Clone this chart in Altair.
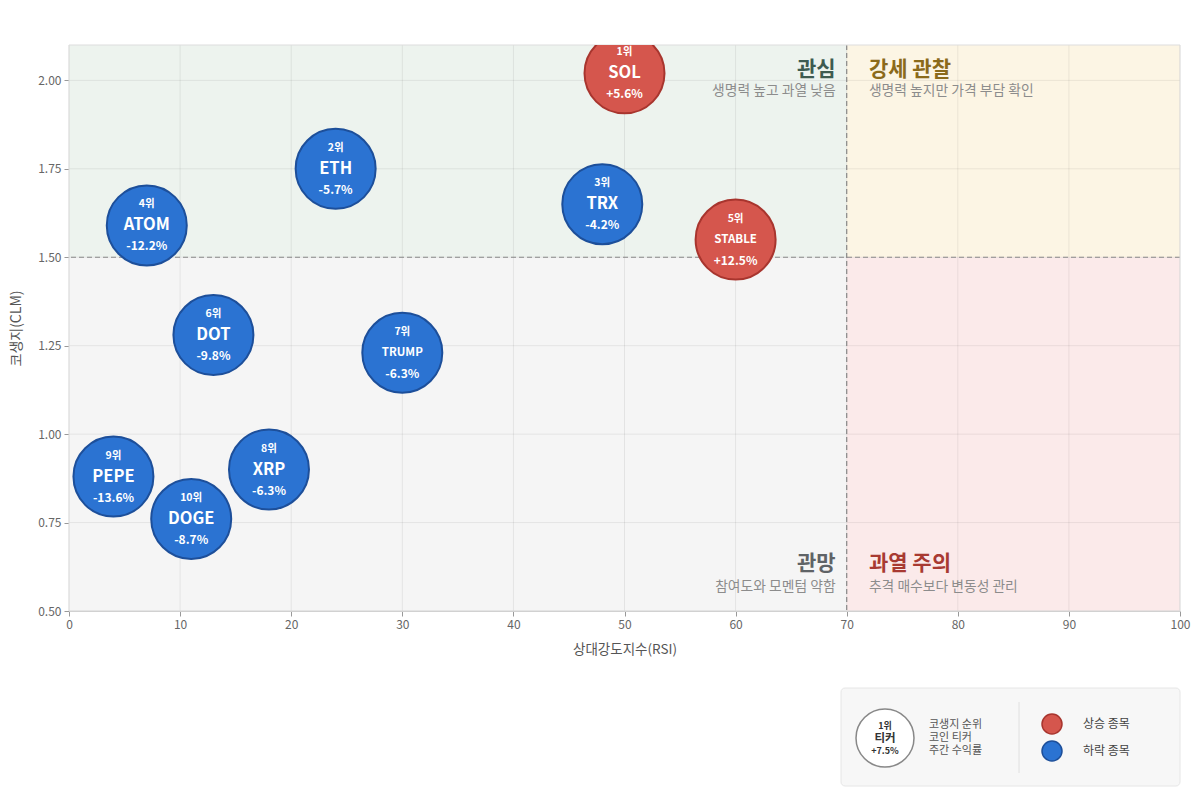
import altair as alt
import pandas as pd

FONT = "Noto Sans CJK KR"

ranks = ["1위", "2위", "3위", "4위", "5위", "6위", "7위", "8위", "9위", "10위"]
tickers = ["SOL", "ETH", "TRX", "ATOM", "STABLE", "DOT", "TRUMP", "XRP", "PEPE", "DOGE"]
rsi = [50, 24, 48, 7, 60, 13, 30, 18, 4, 11]
clm = [2.02, 1.75, 1.65, 1.59, 1.55, 1.28, 1.23, 0.90, 0.88, 0.76]
weekly = [5.6, -5.7, -4.2, -12.2, 12.5, -9.8, -6.3, -6.3, -13.6, -8.7]

x_ticks = [0, 10, 20, 30, 40, 50, 60, 70, 80, 90, 100]
y_ticks = [0.5, 0.75, 1.0, 1.25, 1.5, 1.75, 2.0]

quad_x0 = [0, 70, 0, 70]
quad_x1 = [70, 100, 70, 100]
quad_y0 = [1.5, 1.5, 0.5, 0.5]
quad_y1 = [2.1, 2.1, 1.5, 1.5]
quad_fill = ["#edf3ee", "#fcf5e4", "#f5f5f5", "#fbeaea"]

quad_titles = ["관심", "강세 관찰", "관망", "과열 주의"]
quad_subs = ["생명력 높고 과열 낮음", "생명력 높지만 가격 부담 확인", "참여도와 모멘텀 약함", "추격 매수보다 변동성 관리"]
quad_label_x = [69, 72, 69, 72]
quad_title_y = [2.028, 2.028, 0.633, 0.633]
quad_sub_y = [1.969, 1.969, 0.568, 0.568]

legend_sample = ["1위", "티커", "+7.5%"]
legend_desc = ["코생지 순위", "코인 티커", "주간 수익률"]
legend_dirs = ["상승 종목", "하락 종목"]

df = pd.DataFrame({"rank": ranks, "ticker": tickers, "rsi": rsi, "clm": clm, "ret": weekly})
df["pct"] = [("+" if v > 0 else "") + f"{v:.1f}%" for v in weekly]
df["dir"] = [legend_dirs[0] if v > 0 else legend_dirs[1] for v in weekly]

quads = pd.DataFrame({"x0": quad_x0, "x1": quad_x1, "y0": quad_y0, "y1": quad_y1, "fill": quad_fill})

W, H = 1111, 566
xs = alt.Scale(domain=[0, 100], nice=False)
ys = alt.Scale(domain=[0.5, 2.1], nice=False)
XT = "상대강도지수(RSI)"
YT = "코생지(CLM)"
AX = alt.Axis(values=x_ticks, format="d", grid=False, labelColor="#666", titleColor="#555",
              labelFontSize=12, titleFontSize=13.5, titleFontWeight="normal", domainColor="#cccccc",
              tickColor="#999", titlePadding=12, labelPadding=3, labelFlush=False)
AY = alt.Axis(values=y_ticks, format=".2f", grid=False, labelColor="#666", titleColor="#555",
              labelFontSize=12, titleFontSize=14, titleFontWeight="normal", domainColor="#cccccc",
              tickColor="#999", titlePadding=14, labelPadding=3, labelFlush=False)


def xe(f):
    return alt.X(f, scale=xs, axis=AX, title=XT)


def ye(f):
    return alt.Y(f, scale=ys, axis=AY, title=YT)


bg = alt.Chart(quads).mark_rect().encode(
    x=xe("x0:Q"), x2="x1:Q", y=ye("y0:Q"), y2="y1:Q",
    fill=alt.Fill("fill:N", scale=None),
)

vgrid = alt.Chart(pd.DataFrame({"v": x_ticks})).mark_rule(color="#000000", opacity=0.07, strokeWidth=1).encode(
    x=xe("v:Q"))
hgrid = alt.Chart(pd.DataFrame({"v": y_ticks})).mark_rule(color="#000000", opacity=0.07, strokeWidth=1).encode(
    y=ye("v:Q"))

one = pd.DataFrame({"k": [0]})
frame = alt.Chart(one).mark_rect(fill=None, stroke="#dddddd", strokeWidth=1).encode(
    x=alt.value(0), x2=alt.value(W), y=alt.value(0), y2=alt.value(H))

vline = alt.Chart(pd.DataFrame({"v": [70]})).mark_rule(color="#888888", strokeDash=[5, 3], strokeWidth=1.2).encode(
    x=xe("v:Q"))
hline = alt.Chart(pd.DataFrame({"v": [1.5]})).mark_rule(color="#888888", strokeDash=[5, 3], strokeWidth=1.2).encode(
    y=ye("v:Q"))

qlab = pd.DataFrame({
    "t": quad_titles, "s": quad_subs, "x": quad_label_x, "ty": quad_title_y, "sy": quad_sub_y,
    "c": ["#3e5b50", "#8b6a1a", "#5f6366", "#a83a32"],
    "a": ["right", "left", "right", "left"],
})


def qtext(d, align):
    t = alt.Chart(d).mark_text(font=FONT, fontSize=21, fontWeight="bold", align=align, baseline="middle").encode(
        x=xe("x:Q"), y=ye("ty:Q"), text="t:N", color=alt.Color("c:N", scale=None))
    s = alt.Chart(d).mark_text(font=FONT, fontSize=13.8, align=align, baseline="middle", color="#8c8c8c").encode(
        x=xe("x:Q"), y=ye("sy:Q"), text="s:N")
    return t + s


color_scale = alt.Scale(domain=legend_dirs, range=["#d5564d", "#2b73d2"])
stroke_scale = alt.Scale(domain=legend_dirs, range=["#a8352e", "#1d4f9a"])

bubbles = alt.Chart(df).mark_circle(size=6400, opacity=1, strokeWidth=2, clip=True).encode(
    x=xe("rsi:Q"), y=ye("clm:Q"),
    fill=alt.Fill("dir:N", scale=color_scale, legend=None),
    stroke=alt.Stroke("dir:N", scale=stroke_scale, legend=None),
)

t_rank = alt.Chart(df).mark_text(font=FONT, fontSize=10.5, fontWeight="bold", color="white", dy=-21).encode(
    x=xe("rsi:Q"), y=ye("clm:Q"), text="rank:N")
t_tick = alt.Chart(df).mark_text(font=FONT, fontWeight="bold", color="white", dy=0).encode(
    x=xe("rsi:Q"), y=ye("clm:Q"), text="ticker:N",
    size=alt.condition("length(datum.ticker) > 4", alt.value(11.5), alt.value(16.5)))
t_pct = alt.Chart(df).mark_text(font=FONT, fontSize=12, fontWeight="bold", color="white", dy=21).encode(
    x=xe("rsi:Q"), y=ye("clm:Q"), text="pct:N")

# Legend box below the plot (pixel positions relative to the plot origin)
box = alt.Chart(one).mark_rect(fill="#f7f7f7", stroke="#e6e6e6", cornerRadius=4).encode(
    x=alt.value(772), x2=alt.value(1111), y=alt.value(643), y2=alt.value(741))
sep = alt.Chart(one).mark_rule(color="#e0e0e0").encode(
    x=alt.value(950), y=alt.value(657), y2=alt.value(728))
samp = alt.Chart(one).mark_point(shape="circle", size=3364, filled=True, fill="white", stroke="#888888",
                                 strokeWidth=1.5, opacity=1).encode(x=alt.value(816), y=alt.value(693))
samp_t = alt.Chart(pd.DataFrame({"t": legend_sample, "y": [681, 693.5, 706],
                                 "fs": [9, 11.5, 9]})).mark_text(font=FONT, fontWeight="bold", color="#333").encode(
    x=alt.value(816), y=alt.Y("y:Q", scale=None), text="t:N", size=alt.Size("fs:Q", scale=None))
samp_d = alt.Chart(pd.DataFrame({"t": legend_desc, "y": [680, 693, 706]})).mark_text(
    font=FONT, fontSize=11, color="#555", align="left").encode(
    x=alt.value(860), y=alt.Y("y:Q", scale=None), text="t:N")
leg_c = alt.Chart(pd.DataFrame({"d": legend_dirs, "y": [679, 706]})).mark_point(
    shape="circle", size=400, filled=True, strokeWidth=1.5, opacity=1).encode(
    x=alt.value(983), y=alt.Y("y:Q", scale=None),
    fill=alt.Fill("d:N", scale=color_scale, legend=None),
    stroke=alt.Stroke("d:N", scale=stroke_scale, legend=None))
leg_t = alt.Chart(pd.DataFrame({"d": legend_dirs, "y": [679, 706]})).mark_text(
    font=FONT, fontSize=12, color="#444", align="left").encode(
    x=alt.value(1014), y=alt.Y("y:Q", scale=None), text="d:N")

chart = alt.layer(
    bg, vgrid, hgrid, vline, hline, frame,
    qtext(qlab[qlab["a"] == "right"], "right"), qtext(qlab[qlab["a"] == "left"], "left"),
    bubbles, t_rank, t_tick, t_pct,
    box, sep, samp, samp_t, samp_d, leg_c, leg_t,
).resolve_scale(fill="independent", stroke="independent").properties(
    width=W, height=H,
    autosize=alt.AutoSizeParams(type="none"),
    padding={"left": 69, "top": 45, "right": 20, "bottom": 193},
    background="white",
).configure_view(stroke=None).configure_axis(labelFont=FONT, titleFont=FONT)

chart.save("out.html", embed_options={"renderer": "svg", "actions": False})
